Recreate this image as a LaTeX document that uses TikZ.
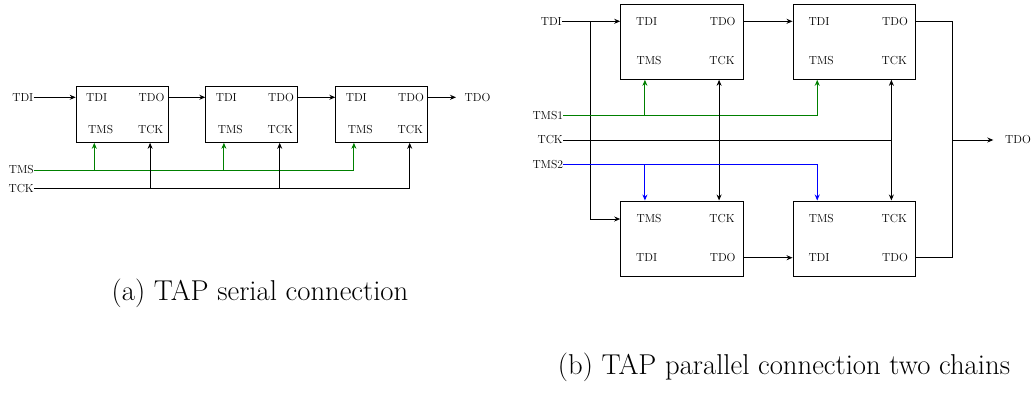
\documentclass[tikz,border=0pt]{standalone}
\usetikzlibrary{calc,arrows.meta}
\definecolor{tmsgreen}{RGB}{0,128,0}
\begin{document}
\begin{tikzpicture}[x=1pt,y=-1pt,
  every node/.style={font=\fontsize{11.6}{14}\selectfont},
  tapbox/.style={draw, line width=1pt, inner sep=0pt},
  wire/.style={line width=0.9pt},
  arr/.style={wire,-{Stealth[length=6pt,width=5pt]}},
  darr/.style={wire,{Stealth[length=6pt,width=5pt]}-{Stealth[length=6pt,width=5pt]}},
  gw/.style={draw=tmsgreen},
  bw/.style={draw=blue},
  sig/.style={inner sep=0pt, anchor=east},
  captext/.style={font=\fontsize{28.7}{34}\selectfont, anchor=base, inner sep=0pt}]
\useasboundingbox (0,0) rectangle (1035,392);

% ---------- (a) serial ----------
\foreach \n/\x in {s1/122.2, s2/251.8, s3/381.8} {
  \node[tapbox, minimum width=92pt, minimum height=56pt] (\n) at (\x,114.3) {};
  \node (\n-tdi) at ($(\n.center)+(-25.5,-17)$) {TDI};
  \node (\n-tdo) at ($(\n.center)+(29.3,-17)$) {TDO};
  \node (\n-tms) at ($(\n.center)+(-21.5,15)$) {TMS};
  \node (\n-tck) at ($(\n.center)+(28.5,15)$) {TCK};
  \coordinate (\n-m) at ($(\n.south west)!0.2!(\n.south east)$);
  \coordinate (\n-c) at ($(\n.south west)!0.8!(\n.south east)$);
}
\node[sig] (tdiA) at (33.5,97.3) {TDI};
\node[sig] (tmsA) at (34,170) {TMS};
\node[sig] (tckA) at (34,188.7) {TCK};
\node[anchor=west, inner xsep=8.5pt, inner ysep=0pt] (tdoA) at (456,97.3) {TDO};

\draw[arr] (tdiA.east) -- (tdiA.east -| s1.west);
\draw[arr] (s1.east |- s1-tdo) -- (s2.west |- s1-tdo);
\draw[arr] (s2.east |- s2-tdo) -- (s3.west |- s2-tdo);
\draw[arr] (s3.east |- s3-tdo) -- (tdoA.west);

\draw[arr,gw] (tmsA.east) -| (s3-m);
\draw[arr,gw] (s1-m |- tmsA.east) -- (s1-m);
\draw[arr,gw] (s2-m |- tmsA.east) -- (s2-m);

\draw[arr] (tckA.east) -| (s3-c);
\draw[arr] (s1-c |- tckA.east) -- (s1-c);
\draw[arr] (s2-c |- tckA.east) -- (s2-c);

\node[captext] (capA) at (260,300) {(a) TAP serial connection};

% ---------- (b) parallel ----------
\foreach \n/\x/\y in {pa/682/42, pb/854.3/42} {
  \node[tapbox, minimum width=122.6pt, minimum height=74.6pt] (\n) at (\x,\y) {};
  \node (\n-tdi) at ($(\n.center)+(-35.3,-20.7)$) {TDI};
  \node (\n-tdo) at ($(\n.center)+(40.7,-20.7)$) {TDO};
  \node (\n-tms) at ($(\n.center)+(-33,19)$) {TMS};
  \node (\n-tck) at ($(\n.center)+(40,19)$) {TCK};
  \coordinate (\n-m) at ($(\n.south west)!0.2!(\n.south east)$);
  \coordinate (\n-c) at ($(\n.south west)!0.8!(\n.south east)$);
}
\foreach \n/\x/\y in {pc/682/238.5, pd/854.3/238.5} {
  \node[tapbox, minimum width=122.6pt, minimum height=75pt] (\n) at (\x,\y) {};
  \node (\n-tms) at ($(\n.center)+(-33,-19.5)$) {TMS};
  \node (\n-tck) at ($(\n.center)+(40,-19.5)$) {TCK};
  \node (\n-tdi) at ($(\n.center)+(-35.3,19.2)$) {TDI};
  \node (\n-tdo) at ($(\n.center)+(40.7,19.2)$) {TDO};
  \coordinate (\n-m) at ($(\n.north west)!0.2!(\n.north east)$);
  \coordinate (\n-c) at ($(\n.north west)!0.8!(\n.north east)$);
}
\node[sig] (tdiB) at (562,21.3) {TDI};
\node[sig] (tms1B) at (563.3,115.7) {TMS1};
\node[sig] (tckB) at (563,140) {TCK};
\node[sig] (tms2B) at (563.3,164.3) {TMS2};
\node[anchor=west, inner xsep=11.7pt, inner ysep=0pt] (tdoB) at (993.3,140) {TDO};
\coordinate (br) at ($(tdiB.east)+(28.7,0)$);
\coordinate (mx) at (952.7,140);

\draw[arr] (tdiB.east) -- (tdiB.east -| pa.west);
\draw[arr] (br) |- (pc.west |- pc-tms);
\draw[arr] (pa.east |- pa-tdo) -- (pb.west |- pa-tdo);
\draw[arr] (pc.east |- pc-tdo) -- (pd.west |- pc-tdo);

\draw[arr,gw] (tms1B.east) -| (pb-m);
\draw[arr,gw] (pa-m |- tms1B.east) -- (pa-m);

\draw[wire] (tckB.east) -- (tckB.east -| pb-c);
\draw[darr] (pa-c) -- (pc-c);
\draw[darr] (pb-c) -- (pd-c);

\draw[arr,bw] (tms2B.east) -| (pd-m);
\draw[arr,bw] (pc-m |- tms2B.east) -- (pc-m);

\draw[wire] (pb.east |- pb-tdo) -| (mx) |- (pd.east |- pd-tdo);
\draw[arr] (mx) -- (tdoB.west);

\node[captext] (capB) at (784,374) {(b) TAP parallel connection two chains};
\end{tikzpicture}
\end{document}
